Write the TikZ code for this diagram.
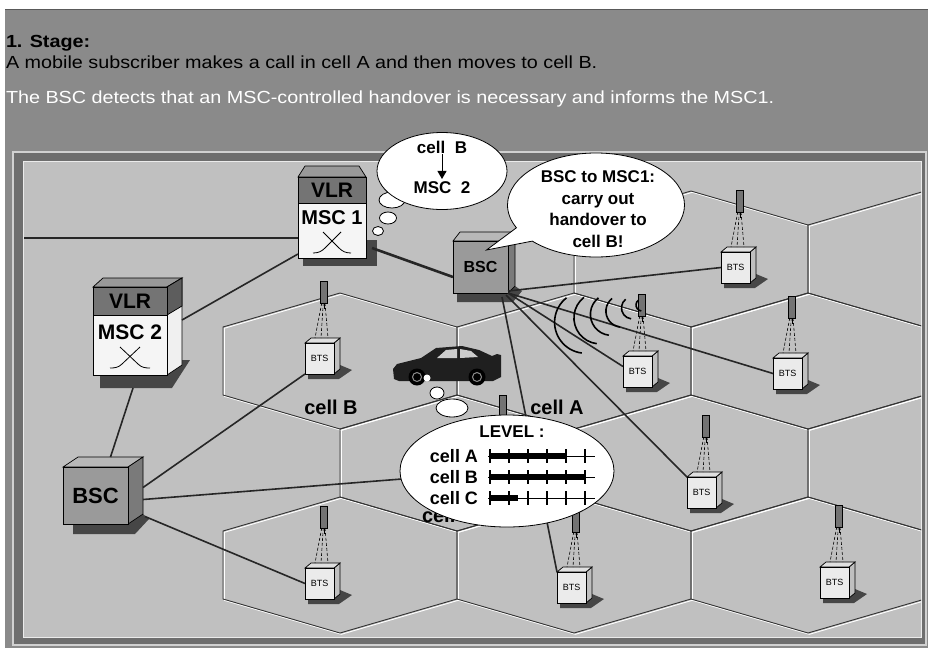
\documentclass[tikz,border=0pt]{standalone}
\usepackage{fontspec}
\setmainfont{Liberation Sans}
\newfontfamily\headfont[FakeStretch=1.13]{Liberation Sans}
\usetikzlibrary{shapes.geometric,shapes.callouts,arrows.meta,calc}

\definecolor{headgray}{HTML}{8A8A8A}
\definecolor{framegray}{HTML}{6E6E6E}
\definecolor{panelgray}{HTML}{C0C0C0}
\definecolor{vlrgray}{HTML}{747474}
\definecolor{bscgray}{HTML}{9A9A9A}
\definecolor{shadowgray}{HTML}{464646}

\begin{document}
\begin{tikzpicture}[
    x=1pt, y=-1pt,
    every node/.style={inner sep=0pt, outer sep=0pt},
    hexedge/.style={draw=black!80, line width=0.9pt},
    hexglow/.style={draw=white, line width=0.9pt},
    link/.style={draw=black!85, line width=1.6pt},
    trunk/.style={draw=black!85, line width=2.6pt},
    face/.style={draw=black, line width=0.7pt},
    vlr/.style={face, fill=vlrgray, minimum width=68pt, minimum height=26pt,
                font=\bfseries\fontsize{21}{21}\selectfont},
    msc/.style={face, fill=black!4, minimum width=68pt, minimum height=55pt},
    bts/.style={face, fill=black!8, minimum width=29pt, minimum height=31pt,
                font=\fontsize{9}{9}\selectfont},
    antenna/.style={face, fill=black!55, minimum width=7pt, minimum height=22pt},
    feed/.style={draw=black, line width=0.6pt, dash pattern=on 3pt off 2pt},
    wave/.style={draw=black, line width=1.6pt},
    bubble/.style={ellipse, draw=black, fill=white, line width=0.8pt},
    headline/.style={font=\headfont\fontsize{17.5}{17.5}\selectfont, anchor=base west},
    boxname/.style={font=\bfseries\fontsize{20}{20}\selectfont},
    celltxt/.style={font=\bfseries\fontsize{20}{20}\selectfont},
    lvltxt/.style={font=\bfseries\fontsize{18}{18}\selectfont},
    say/.style={font=\bfseries\fontsize{17}{21.7}\selectfont, align=center},
]
\useasboundingbox (0,0) rectangle (928,648);

% window and frame
\fill[white] (0,0) rectangle (928,648);
\fill[headgray] (5,9) rectangle (928,648);
\draw[black!65, line width=1.5pt] (5,9.5) -- (928,9.5);
\filldraw[fill=framegray, draw=black!18, line width=1.2pt] (13,152) rectangle (926,645);
\filldraw[fill=panelgray, draw=black!8, line width=1pt] (23,161) rectangle (921,637);

\node[headline, font=\headfont\bfseries\fontsize{17.5}{17.5}\selectfont] (stage) at (6,47) {1. Stage:};
\node[headline] (move) at (6,68) {A mobile subscriber makes a call in cell A and then moves to cell B.};
\node[headline, text=white] (detect) at (6,103) {The BSC detects that an MSC-controlled handover is necessary and informs the MSC1.};

% cells
\begin{scope}
  \clip (23,161) rectangle (921,637);
  \foreach \cx/\cy in {691/259, 925/259, 340/361, 574/361, 808/361, 457/463, 691/463, 925/463, 340/565, 574/565, 808/565}
    \draw[hexglow, shift={(1.3,1.3)}] (\cx,\cy-68) -- (\cx+117,\cy-34) -- (\cx+117,\cy+34) -- (\cx,\cy+68) -- (\cx-117,\cy+34) -- (\cx-117,\cy-34) -- cycle;
  \foreach \cx/\cy in {691/259, 925/259, 340/361, 574/361, 808/361, 457/463, 691/463, 925/463, 340/565, 574/565, 808/565}
    \draw[hexedge] (\cx,\cy-68) -- (\cx+117,\cy-34) -- (\cx+117,\cy+34) -- (\cx,\cy+68) -- (\cx-117,\cy+34) -- (\cx-117,\cy-34) -- cycle;
\end{scope}

% base stations
\foreach \k/\x/\y in {1/305/343, 2/721/252, 3/623/356, 4/773/358, 5/687/477, 6/557/572, 7/820/567, 8/305/568, 9/484/457}{
  \fill[shadowgray] (\x+3,\y+31) -- (\x+3,\y+36) -- (\x+34,\y+36) -- (\x+47,\y+27) -- (\x+35,\y+22) -- cycle;
  \filldraw[face, fill=black!25] (\x+29,\y) -- (\x+35,\y-5) -- (\x+35,\y+26) -- (\x+29,\y+31) -- cycle;
  \filldraw[face, fill=black!12] (\x,\y) -- (\x+6,\y-5) -- (\x+35,\y-5) -- (\x+29,\y) -- cycle;
  \node[bts, anchor=north west] (bts\k) at (\x,\y) {BTS};
  \node[antenna, anchor=north] (ant\k) at (\x+19,\y-62) {};
  \draw[line width=1pt] (ant\k.south) -- ++(0,6);
  \foreach \s in {-9,-3,4}
    \draw[feed] ($(ant\k.south)+(\s/4,0)$) -- ($(ant\k.south)+(\s,35)$);
}

% MSC 1
\fill[shadowgray] (303,240) rectangle (377,266);
\filldraw[face, fill=black!40] (298,177) -- (305,166) -- (359,166) -- (366,177) -- cycle;
\node[vlr, anchor=north west] (vlr1) at (298,177) {VLR};
\node[msc, anchor=north west] (msc1) at (298,203) {};
\node[boxname] (mscname1) at ($(msc1.north)+(0,15)$) {MSC 1};
\draw[line width=0.8pt] ($(msc1.south)+(-9,-26)$) -- ($(msc1.south)+(7,-10)$) to[out=-45,in=180] ($(msc1.south)+(19,-5)$);
\draw[line width=0.8pt] ($(msc1.south)+(9,-26)$) -- ($(msc1.south)+(-7,-10)$) to[out=-135,in=0] ($(msc1.south)+(-19,-5)$);

% MSC 2
\fill[shadowgray] (100,388) -- (172,388) -- (190,360) -- (182,360) -- (167,375) -- (100,375) -- cycle;
\filldraw[face, fill=black!40] (93,287) -- (103,278) -- (182,278) -- (167,287) -- cycle;
\filldraw[face, fill=black!6] (167,287) -- (182,278) -- (182,365) -- (167,375) -- cycle;
\filldraw[face, fill=vlrgray!80!black] (167,287) -- (182,278) -- (182,306) -- (167,315) -- cycle;
\node[vlr, minimum width=74pt, minimum height=28pt, anchor=north west] (vlr2) at (93,287) {VLR};
\node[msc, minimum width=74pt, minimum height=60pt, anchor=north west] (msc2) at (93,315) {};
\node[boxname, font=\bfseries\fontsize{21}{21}\selectfont] (mscname2) at ($(msc2.north)+(0,17)$) {MSC 2};
\draw[line width=0.8pt] ($(msc2.south)+(-10,-28)$) -- ($(msc2.south)+(8,-11)$) to[out=-45,in=180] ($(msc2.south)+(20,-7)$);
\draw[line width=0.8pt] ($(msc2.south)+(10,-28)$) -- ($(msc2.south)+(-8,-11)$) to[out=-135,in=0] ($(msc2.south)+(-20,-7)$);

% BSC near MSC 1
\fill[shadowgray] (457,302) -- (513,302) -- (522,291) -- (515,286) -- (508,293) -- (457,293) -- cycle;
\filldraw[face, fill=black!28] (453,241) -- (460,232) -- (515,232) -- (508,241) -- cycle;
\filldraw[face, fill=black!52] (508,241) -- (515,232) -- (515,286) -- (508,293) -- cycle;
\node[face, fill=bscgray, minimum width=55pt, minimum height=52pt,
      font=\bfseries\fontsize{16}{16}\selectfont] (bsc1) at (480.5,267) {BSC};

% BSC near MSC 2
\fill[shadowgray] (73,534) -- (135,534) -- (149,519) -- (143,514) -- (128,524) -- (73,524) -- cycle;
\filldraw[face, fill=black!28] (63,467) -- (78,457) -- (143,457) -- (128,467) -- cycle;
\filldraw[face, fill=black!52] (128,467) -- (143,457) -- (143,514) -- (128,524) -- cycle;
\node[face, fill=bscgray, minimum width=65pt, minimum height=57pt,
      font=\bfseries\fontsize{22}{22}\selectfont] (bsc2) at (95.5,495.5) {BSC};

% links
\coordinate (westend) at (24,238);
\draw[trunk] (westend) -- ($(msc1.west)+(0,7.5)$);
\draw[trunk] ($(msc1.south east)+(6,-10)$) -- ($(bsc1.south west)+(0,-16)$);
\draw[link] ($(msc1.south west)+(0,-4)$) -- ($(msc2.north east)+(15,5)$);
\draw[link] ($(msc2.south)+(3,13)$) -- ($(bsc2.north)+(15,-10)$);
\draw[link] ($(bsc2.east)+(15,-8)$) -- (bts1.south west);
\draw[link] ($(bsc2.east)+(15,4)$) -- (bts9.west);
\draw[link] ($(bsc2.east)+(17,21)$) -- (bts8.west);
\draw[link] ($(bsc1.south east)+(0,-2)$) -- (bts2.west);
\draw[link] (bsc1.south east) -- ($(bts3.west)+(0,-5)$);
\draw[link] (bsc1.south east) -- (bts4.west);
\draw[link] ($(bsc1.south east)+(-2,2)$) -- (bts5.north west);
\draw[link] ($(bsc1.south east)+(-6,4)$) -- (bts6.north west);

% radio waves
\foreach \d/\r in {6/6, 21/11, 37/16, 53/21, 70/26, 90/31}
  \draw[wave] ($(ant3.center)+(163:{\d-\r})+(97:\r)$) arc[start angle=97, end angle=232, radius=\r];

% car
\fill[black!88] (394,379) -- (393,369) -- (397,364) -- (421,358) -- (436,348) -- (462,346) -- (479,350)
  -- (492,356) -- (497,354) -- (501,355) -- (501,377) -- (493,381) -- (399,381) -- cycle;
\fill[black!20] (437,358) -- (446,350) -- (457,349) -- (457,358) -- cycle;
\fill[black!20] (460,358) -- (460,349) -- (471,351) -- (478,357) -- cycle;
\foreach \wx in {417,477}{
  \fill[black] (\wx,377) circle[radius=8.5];
  \draw[black!45, line width=1pt] (\wx,377) circle[radius=4.5];
}
\fill[white] (427,378) circle[radius=3.5];

\node[celltxt] (cellB) at (331,407) {cell B};
\node[celltxt] (cellA) at (557,407) {cell A};
\node[celltxt, anchor=west] (cellC) at (422,515) {cell C};

% measurement report
\node[bubble, minimum width=14pt, minimum height=12pt] (puff1) at (437,393) {};
\node[bubble, minimum width=32pt, minimum height=18pt] (puff2) at (452,408) {};
\node[bubble, minimum width=214pt, minimum height=112pt] (levels) at (507,471) {};
\node[lvltxt, font=\bfseries\fontsize{17}{17}\selectfont] (lvl) at (512,432) {LEVEL :};
\foreach \row/\lab/\val [count=\k] in {456/cell A/565, 477/cell B/585, 498/cell C/518}{
  \node[lvltxt, anchor=east] (row\k) at (478,\row) {\lab};
  \draw[line width=1pt] (488,\row) -- (595,\row);
  \draw[line width=5.5pt] (490,\row) -- (\val,\row);
  \foreach \t in {490,509,...,585}
    \draw[line width=1.2pt] (\t,\row-7) -- (\t,\row+7);
}

% MSC 1 thinks
\node[bubble, minimum width=11pt, minimum height=9pt] (puffc) at (378,231) {};
\node[bubble, minimum width=17pt, minimum height=12pt] (puffb) at (388,218) {};
\node[bubble, minimum width=26pt, minimum height=16pt] (puffa) at (392,200) {};
\node[bubble, minimum width=130pt, minimum height=77pt] (think) at (442,171) {};
\node[font=\bfseries\fontsize{17}{17}\selectfont] (thinkcell) at (442,147) {cell\ \ B};
\node[font=\bfseries\fontsize{17}{17}\selectfont] (thinkmsc) at (442,188) {MSC\ \ 2};
\draw[line width=1pt, -{Triangle[width=9pt,length=8pt]}, shorten <=1pt, shorten >=3pt] (thinkcell) -- (thinkmsc);

% BSC tells MSC 1
\node[ellipse callout, draw=black, fill=white, line width=0.8pt, minimum width=177pt, minimum height=104pt,
      callout absolute pointer={($(bsc1.north)+(6,9)$)}, callout pointer arc=18] (order) at (596,205) {};
\node[say] (ordertext) at (598,209) {BSC to MSC1:\\carry out\\handover to\\cell B!};

\end{tikzpicture}
\end{document}
